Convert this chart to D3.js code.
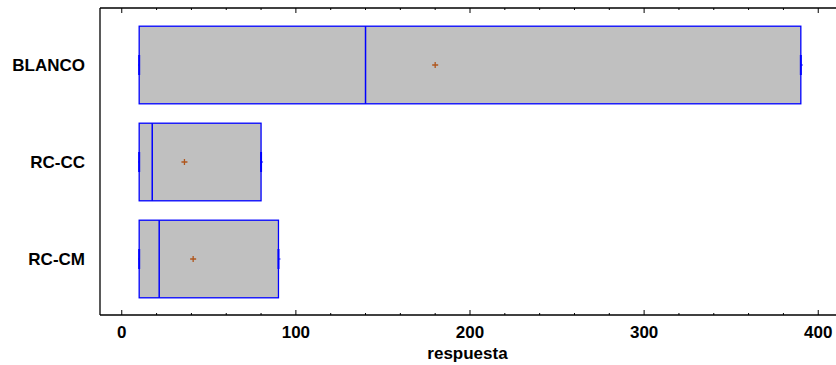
<!DOCTYPE html>
<html>
<head>
<meta charset="utf-8">
<script src="https://cdn.jsdelivr.net/npm/d3@7/dist/d3.min.js"></script>
<style>
  html, body { margin: 0; padding: 0; background: #fff; }
  svg { display: block; font-family: "Liberation Sans", Arial, sans-serif; }
</style>
</head>
<body>
<svg id="chart" width="836" height="365"></svg>
<script>
// Groups and their box summaries (min, q1, median, q3, max, mean)
const categories = ["BLANCO", "RC-CC", "RC-CM"];
const minValues    = [10, 10, 10];
const q1Values     = [10, 10, 10];
const medianValues = [140, 17.5, 21.5];
const q3Values     = [390, 80, 90];
const maxValues    = [390, 80, 90];
const meanValues   = [180, 36, 41];

const majorTicks = [0, 100, 200, 300, 400];
const minorTicks = d3.range(0, 401, 20);
const axisTitle = "respuesta";

const plot = { left: 100, right: 836, top: 8, bottom: 315 };

const svg = d3.select("#chart");

const x = d3.scaleLinear().domain([-12.5, 410.2]).range([plot.left, plot.right]);
const y = d3.scaleBand().domain(categories)
  .range([16.5, 307.5]).paddingInner(0.2).paddingOuter(0.1);

const rows = categories.map((c, i) => ({
  cat: c, min: minValues[i], q1: q1Values[i], med: medianValues[i],
  q3: q3Values[i], max: maxValues[i], mean: meanValues[i]
}));

const blue = "#0000ff";

// boxes
const g = svg.append("g");
rows.forEach(r => {
  const y0 = y(r.cat), bh = y.bandwidth(), cy = y0 + bh / 2;
  // whisker stems
  g.append("line").attr("x1", x(r.min) - 1).attr("x2", x(r.q1))
    .attr("y1", cy).attr("y2", cy).attr("stroke", blue).attr("stroke-width", 1);
  g.append("line").attr("x1", x(r.q3)).attr("x2", x(r.max) + 2)
    .attr("y1", cy).attr("y2", cy).attr("stroke", blue).attr("stroke-width", 1);
  // box
  g.append("rect")
    .attr("x", x(r.q1)).attr("y", y0)
    .attr("width", x(r.q3) - x(r.q1)).attr("height", bh)
    .attr("fill", "#c0c0c0").attr("stroke", blue).attr("stroke-width", 1.3);
  // whisker caps
  [r.min, r.max].forEach(v => {
    g.append("line").attr("x1", x(v)).attr("x2", x(v))
      .attr("y1", cy - 10).attr("y2", cy + 10)
      .attr("stroke", blue).attr("stroke-width", 2);
  });
  // median
  g.append("line").attr("x1", x(r.med)).attr("x2", x(r.med))
    .attr("y1", y0).attr("y2", y0 + bh)
    .attr("stroke", blue).attr("stroke-width", 1.5);
  // mean marker
  const mx = x(r.mean);
  g.append("path")
    .attr("d", `M${mx - 3},${cy}H${mx + 3}M${mx},${cy - 3}V${cy + 3}`)
    .attr("stroke", "#b0561c").attr("stroke-width", 1.3).attr("fill", "none");
});

// frame lines
const axisColor = "#000";
svg.append("line").attr("x1", plot.left).attr("x2", plot.right)
  .attr("y1", plot.top).attr("y2", plot.top).attr("stroke", axisColor).attr("stroke-width", 1.3);
svg.append("line").attr("x1", plot.left).attr("x2", plot.right)
  .attr("y1", plot.bottom).attr("y2", plot.bottom).attr("stroke", axisColor).attr("stroke-width", 1.3);
svg.append("line").attr("x1", plot.left).attr("x2", plot.left)
  .attr("y1", plot.top).attr("y2", plot.bottom).attr("stroke", axisColor).attr("stroke-width", 1.3);

// ticks
minorTicks.forEach(v => {
  const major = majorTicks.includes(v);
  const len = major ? 5 : 2;
  svg.append("line").attr("x1", x(v)).attr("x2", x(v))
    .attr("y1", plot.bottom).attr("y2", plot.bottom - len)
    .attr("stroke", axisColor).attr("stroke-width", 1);
  svg.append("line").attr("x1", x(v)).attr("x2", x(v))
    .attr("y1", plot.top).attr("y2", plot.top + len)
    .attr("stroke", axisColor).attr("stroke-width", 1);
});

// tick labels
svg.append("g").selectAll("text").data(majorTicks).join("text")
  .attr("x", d => x(d)).attr("y", 338)
  .attr("text-anchor", "middle")
  .attr("font-size", 17).attr("font-weight", "bold").attr("fill", "#000")
  .text(d => d);

// axis title
svg.append("text").attr("x", 467.5).attr("y", 359)
  .attr("text-anchor", "middle")
  .attr("font-size", 17).attr("font-weight", "bold").attr("fill", "#000")
  .text(axisTitle);

// category labels
svg.append("g").selectAll("text").data(categories).join("text")
  .attr("x", 85).attr("y", d => y(d) + y.bandwidth() / 2 + 6)
  .attr("text-anchor", "end")
  .attr("font-size", 17).attr("font-weight", "bold").attr("fill", "#000")
  .text(d => d);
</script>
</body>
</html>
